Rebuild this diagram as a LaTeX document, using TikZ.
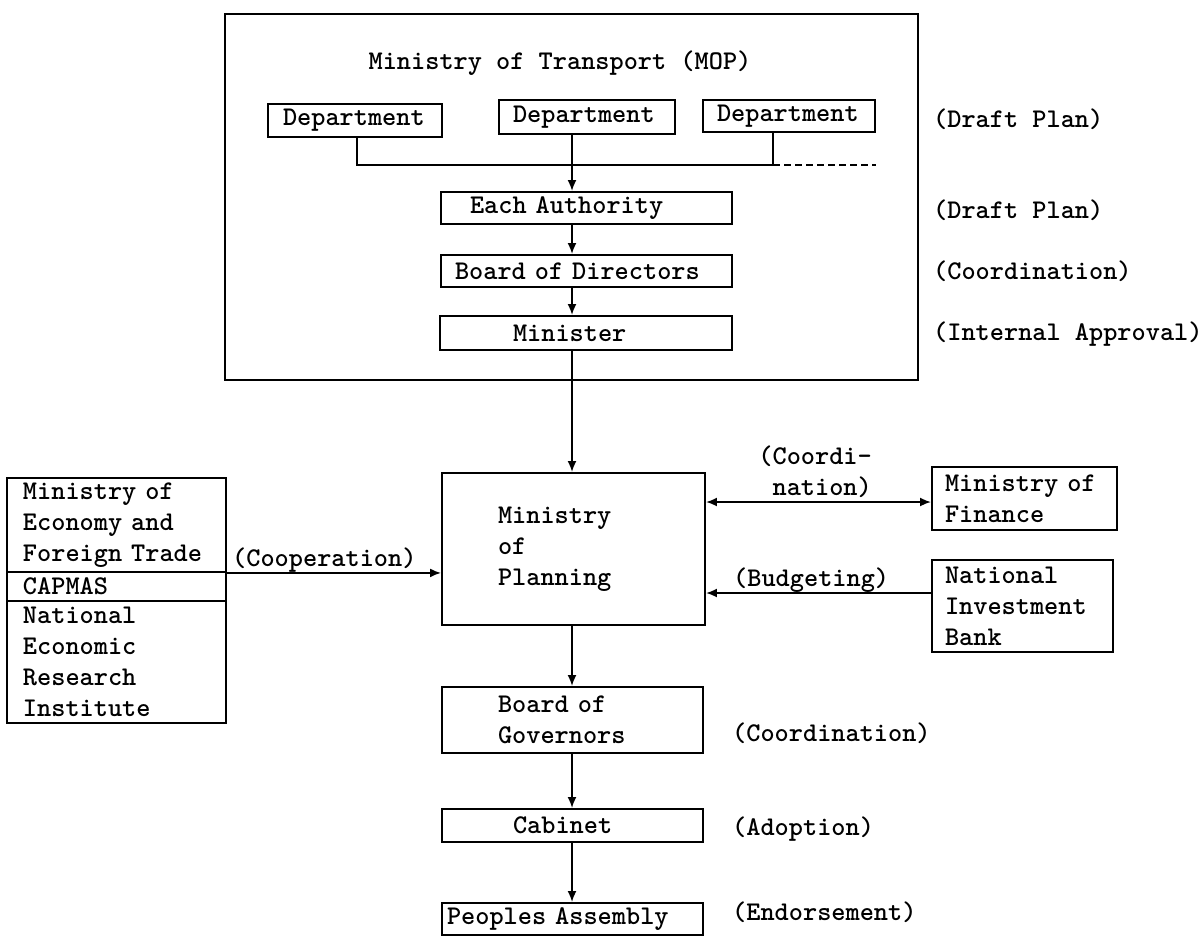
\documentclass[tikz,border=0pt]{standalone}
\usetikzlibrary{arrows.meta}
\newcommand\diagfont{\fontsize{27}{31}\selectfont\ttfamily\bfseries}
\begin{document}
\begin{tikzpicture}[x=1pt,y=-1pt,
  bx/.style={draw, line width=1.9pt, inner sep=0pt, align=left, font=\diagfont},
  lbl/.style={inner sep=0pt, font=\diagfont, anchor=west},
  arr/.style={line width=1.9pt, -{Latex[length=11pt,width=9pt]}},
  dblarr/.style={line width=1.9pt, {Latex[length=11pt,width=9pt]}-{Latex[length=11pt,width=9pt]}},
  ln/.style={line width=1.9pt}]
\useasboundingbox (0,0) rectangle (1203,938);

% Ministry of Transport frame
\node[draw, line width=2.6pt, inner sep=0pt, minimum width=693pt, minimum height=366pt] (mot) at (571.5,197) {};
\node[inner sep=0pt, font=\diagfont] (title) at (560,63) {Ministry of Transport (MOP)};

% Departments
\node[bx, text width=174pt, minimum height=33pt] (d1) at (355,120.5) {\hspace*{15pt}Department};
\node[bx, text width=176pt, minimum height=34pt] (d2) at (587,117) {\hspace*{14pt}Department};
\node[bx, text width=172pt, minimum height=32pt] (d3) at (789,116) {\hspace*{14pt}Department};

\node[bx, text width=291pt, minimum height=32pt] (ea) at (586.5,208) {\hspace*{29pt}Each Authority};
\node[bx, text width=291pt, minimum height=32pt] (bod) at (586.5,271) {\hspace*{14pt}Board of Directors};
\node[bx, text width=292pt, minimum height=34pt] (min) at (586,333) {\hspace*{73pt}Minister};

% central column
\node[bx, text width=263pt, minimum height=152pt] (mop) at (573.5,549) {\hspace*{56pt}Ministry\\\hspace*{56pt}of\\\hspace*{56pt}Planning};
\node[bx, text width=261pt, minimum height=66pt] (bog) at (572.5,720) {\hspace*{56pt}Board of\\\hspace*{56pt}Governors};
\node[bx, text width=261pt, minimum height=33pt] (cab) at (572.5,825.5) {\hspace*{71pt}Cabinet};
\node[bx, text width=261pt, minimum height=32pt] (pa) at (572.5,919) {\hspace*{5pt}Peoples Assembly};

% left stack
\node[bx, text width=219pt, minimum height=94pt] (le1) at (116.5,525) {\hspace*{16pt}Ministry of\\\hspace*{16pt}Economy and\\\hspace*{16pt}Foreign Trade};
\node[bx, text width=219pt, minimum height=29pt] (le2) at (116.5,586.5) {\hspace*{16pt}CAPMAS};
\node[bx, text width=219pt, minimum height=122pt] (le3) at (116.5,662) {\hspace*{16pt}National\\\hspace*{16pt}Economic\\\hspace*{16pt}Research\\\hspace*{16pt}Institute};

% right boxes
\node[bx, text width=185pt, minimum height=63pt] (mof) at (1024.5,498.5) {\hspace*{13pt}Ministry of\\\hspace*{13pt}Finance};
\node[bx, text width=181pt, minimum height=92pt] (nib) at (1022.5,606) {\hspace*{13pt}National\\\hspace*{13pt}Investment\\\hspace*{13pt}Bank};

% helper coordinates
\coordinate (ax) at (572,0);
\coordinate (bus) at (0,165);
\coordinate (s1) at (357,0);
\coordinate (s3) at (773,0);
\coordinate (cy) at (0,502);
\coordinate (by) at (0,593);

% department bus
\draw[ln] (d1.south -| s1) -- (s1 |- bus) -- (s3 |- bus);
\draw[ln] (d3.south -| s3) -- (s3 |- bus);
\draw[ln, dash pattern=on 7pt off 4pt] (s3 |- bus) -- (d3.south east |- bus);

% vertical flow
\draw[arr] (d2.south -| ax) -- (ea.north -| ax);
\draw[arr] (ea.south -| ax) -- (bod.north -| ax);
\draw[arr] (bod.south -| ax) -- (min.north -| ax);
\draw[arr] (min.south -| ax) -- (mop.north -| ax);
\draw[arr] (mop.south -| ax) -- (bog.north -| ax);
\draw[arr] (bog.south -| ax) -- (cab.north -| ax);
\draw[arr] (cab.south -| ax) -- (pa.north -| ax);

% side connections
\draw[arr] (le1.south east) -- (le1.south east -| mop.west);
\node[lbl] (coop) at (232,560) {(Cooperation)};
\draw[dblarr] (mop.east |- cy) -- (mof.west |- cy);
\node[inner sep=0pt, font=\diagfont, align=right, anchor=east] (coordlbl) at (872,472) {(Coordi-\\nation)};
\draw[arr] (nib.west |- by) -- (mop.east |- by);
\node[lbl] (budg) at (733,580) {(Budgeting)};

% stage labels
\node[lbl] (l1) at (933,119) {(Draft Plan)};
\node[lbl] (l2) at (933,210) {(Draft Plan)};
\node[lbl] (l3) at (933,271) {(Coordination)};
\node[lbl] (l4) at (933,334) {(Internal Approval)};
\node[lbl] (l5) at (732,733) {(Coordination)};
\node[lbl] (l6) at (732,829) {(Adoption)};
\node[lbl] (l7) at (732,912) {(Endorsement)};
\end{tikzpicture}
\end{document}
